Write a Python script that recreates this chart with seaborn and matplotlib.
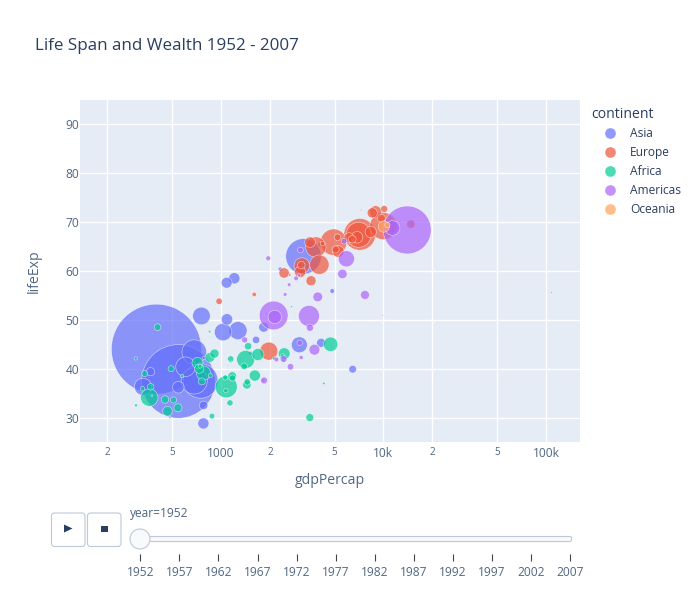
# Life expectancy vs gdp per capita, 1952 frame with the slider drawn underneath

import numpy as np
import pandas as pd
import seaborn as sns
import matplotlib.pyplot as plt
from matplotlib.colors import Normalize
from matplotlib.patches import FancyBboxPatch, Polygon, Rectangle, Circle

asia_gdp = [779.4, 9867.1, 684.2, 368.5, 400.4, 3054.4, 546.6, 749.7, 3035.3, 4129.8, 4086.5,
            3217.0, 1546.9, 1088.3, 1030.6, 108382.4, 4834.8, 1831.1, 786.6, 331.0, 545.9,
            1828.2, 684.6, 1272.9, 6459.6, 2315.1, 1083.5, 1643.5, 1207.0, 757.8, 605.1,
            1515.6, 781.7]
asia_life = [28.8, 50.9, 37.5, 39.4, 44.0, 61.0, 37.4, 37.5, 44.9, 45.3, 65.4,
             63.0, 43.2, 50.1, 47.5, 55.6, 55.9, 48.5, 42.2, 36.3, 36.2,
             37.6, 43.4, 47.8, 39.9, 60.4, 57.6, 45.9, 58.5, 50.8, 40.4,
             43.2, 32.5]
asia_pop = [8.43, 0.12, 46.89, 4.69, 556.26, 2.13, 372.0, 82.05, 17.27, 5.44, 1.62,
            86.46, 0.61, 8.87, 20.95, 0.16, 1.44, 6.75, 0.80, 20.09, 9.18,
            0.51, 41.35, 22.44, 4.01, 1.13, 7.98, 3.66, 8.55, 21.29, 26.25,
            1.03, 4.96]

europe_gdp = [1601.1, 6137.1, 8343.1, 973.5, 2444.3, 3119.2, 6876.1, 9692.4, 6424.5, 7029.8,
              7144.1, 3530.7, 5263.7, 7267.7, 5210.3, 4931.4, 2647.6, 8941.6, 10095.4, 4029.3,
              3068.3, 3144.6, 3581.5, 5074.7, 4215.0, 3834.0, 8527.8, 14734.2, 1969.1, 9979.5]
europe_life = [55.2, 66.8, 68.0, 53.8, 59.6, 61.2, 66.9, 70.8, 66.5, 67.4,
               67.5, 65.9, 64.0, 72.5, 66.9, 65.9, 59.2, 72.1, 72.7, 61.3,
               59.8, 61.1, 58.0, 64.4, 65.6, 64.9, 71.9, 69.6, 43.6, 69.2]
europe_pop = [1.28, 6.93, 8.73, 2.79, 7.27, 3.88, 9.13, 4.33, 4.09, 42.46,
              69.15, 7.73, 9.50, 0.15, 2.95, 47.67, 0.41, 10.38, 3.33, 25.73,
              8.53, 16.63, 6.86, 3.56, 1.49, 28.55, 7.12, 4.82, 22.24, 50.43]

africa_gdp = [2449.0, 3520.6, 1062.8, 851.2, 543.3, 339.3, 1172.7, 1071.3, 1178.7, 1103.0,
              780.5, 2125.6, 1388.6, 2669.5, 1418.8, 375.6, 328.9, 362.1, 4293.5, 485.2,
              911.3, 510.2, 299.9, 853.5, 298.8, 575.6, 2387.5, 1443.0, 369.2, 452.3,
              743.1, 1968.0, 1688.2, 468.5, 2423.8, 761.9, 1077.3, 2718.9, 493.3, 879.6,
              1450.4, 879.8, 1135.7, 4725.3, 1616.0, 1148.4, 716.7, 859.8, 1468.5, 734.8,
              1147.4, 406.9]
africa_life = [43.1, 30.0, 38.2, 47.6, 32.0, 39.0, 38.5, 35.5, 38.1, 40.7,
               39.1, 42.1, 40.5, 34.8, 41.9, 34.5, 35.9, 34.1, 37.0, 30.0,
               43.1, 33.6, 32.5, 42.3, 42.1, 38.5, 42.7, 36.7, 36.3, 33.7,
               40.5, 51.0, 42.9, 31.3, 41.7, 37.4, 36.3, 52.7, 40.0, 46.5,
               37.3, 30.3, 33.0, 45.0, 38.6, 41.4, 41.2, 38.6, 44.6, 40.0,
               42.0, 48.5]
africa_pop = [9.28, 4.23, 1.74, 0.44, 4.47, 2.45, 5.01, 1.29, 2.68, 0.15,
              14.10, 0.85, 2.98, 0.06, 22.22, 0.22, 1.44, 20.86, 0.42, 0.28,
              5.58, 2.66, 0.58, 6.46, 0.75, 0.86, 1.02, 4.76, 2.92, 3.84,
              1.02, 0.52, 9.94, 6.45, 0.49, 3.38, 33.12, 0.26, 2.53, 0.06,
              2.76, 2.14, 2.53, 14.26, 8.50, 0.29, 8.32, 1.22, 3.65, 5.82,
              2.67, 3.08]

americas_gdp = [5911.3, 2677.3, 2108.9, 11367.2, 3940.0, 2144.1, 2627.0, 5586.5, 1397.7, 3522.1,
                3048.3, 2428.2, 1840.4, 2194.9, 2898.5, 3478.1, 3112.4, 2480.4, 1952.3, 3758.5,
                3082.0, 3023.3, 13990.5, 5716.8, 7689.8]
americas_life = [62.5, 40.4, 50.9, 68.8, 54.7, 50.6, 57.2, 59.4, 45.9, 48.4,
                 45.3, 42.0, 37.6, 41.9, 58.5, 50.8, 42.3, 55.2, 62.6, 43.9,
                 64.3, 59.1, 68.4, 66.1, 55.1]
americas_pop = [17.88, 2.88, 56.60, 14.79, 6.38, 12.35, 0.93, 6.01, 2.49, 3.55,
                2.04, 3.15, 3.20, 1.52, 1.43, 30.14, 1.17, 0.94, 1.56, 8.03,
                2.23, 0.66, 157.55, 2.25, 5.44]

oceania_gdp = [10039.6, 10556.6]
oceania_life = [69.1, 69.4]
oceania_pop = [8.69, 1.99]

continents = ["Asia", "Europe", "Africa", "Americas", "Oceania"]
colors = ["#636EFA", "#EF553B", "#00CC96", "#AB63FA", "#FFA15A"]
years = [1952, 1957, 1962, 1967, 1972, 1977, 1982, 1987, 1992, 1997, 2002, 2007]
yticks = [30, 40, 50, 60, 70, 80, 90]
xticks = [200, 500, 1000, 2000, 5000, 10000, 20000, 50000, 100000]
xticklabels = ["2", "5", "1000", "2", "5", "10k", "2", "5", "100k"]

text_color = "#2a3f5f"
soft_text = "#506784"
W, H = 700, 600
PX = 0.72  # css px to points at dpi 100


def make_frame(name, gdp, life, pop):
	return pd.DataFrame({"continent": name, "gdpPercap": gdp, "lifeExp": life, "pop": pop})


df = pd.concat([
	make_frame("Asia", asia_gdp, asia_life, asia_pop),
	make_frame("Europe", europe_gdp, europe_life, europe_pop),
	make_frame("Africa", africa_gdp, africa_life, africa_pop),
	make_frame("Americas", americas_gdp, americas_life, americas_pop),
	make_frame("Oceania", oceania_gdp, oceania_life, oceania_pop),
])

sns.set_theme(style="white")
plt.rcParams["font.family"] = ["Open Sans", "DejaVu Sans"]

fig = plt.figure(figsize=(W / 100, H / 100), dpi=100)
ax = fig.add_axes([80 / W, 1 - 442 / H, 500 / W, 342 / H])
ax.set_facecolor("#E5ECF6")
ax.set_axisbelow(True)

# china is about 90 px wide, area scales with population
biggest = max(asia_pop)
max_s = (90 * PX) ** 2

# each continent is its own layer, big bubbles go first so the small ones stay visible
for name, color in zip(continents, colors):
	part = df[df["continent"] == name].sort_values("pop", ascending=False)
	sns.scatterplot(data=part, x="gdpPercap", y="lifeExp", size="pop",
		sizes=(0, max_s), size_norm=Normalize(0, biggest), color=color,
		alpha=0.7, edgecolor="white", linewidth=0.4, legend=False, ax=ax, clip_on=True)

ax.set_xscale("log")
ax.set_xlim(10 ** (3 - 141 / 162.5), 10 ** (3 + 359 / 162.5))
ax.set_ylim(25, 95)
ax.set_xticks(xticks)
ax.set_xticklabels(xticklabels)
ax.minorticks_off()
ax.set_yticks(yticks)
ax.grid(True, color="white", linewidth=1)
sns.despine(ax=ax, left=True, bottom=True, top=True, right=True)
ax.tick_params(axis="both", length=0, labelcolor=soft_text)
ax.tick_params(axis="x", pad=3.5)
ax.tick_params(axis="y", pad=0.5, labelsize=12 * PX)
for label, text in zip(ax.get_xticklabels(), xticklabels):
	label.set_fontsize(12 * PX if len(text) > 1 else 10 * PX)
ax.set_xlabel("")
ax.set_ylabel("")

# everything outside the axes goes on a pixel overlay
over = fig.add_axes([0, 0, 1, 1])
over.set_xlim(0, W)
over.set_ylim(H, 0)
over.axis("off")

over.text(35, 45.5, "Life Span and Wealth 1952 - 2007", fontsize=17 * PX, color=text_color,
	va="center", ha="left")
over.text(330, 480, "gdpPercap", fontsize=14 * PX, color=soft_text, ha="center", va="center")
over.text(34, 271, "lifeExp", fontsize=14 * PX, color=soft_text, ha="center", va="center",
	rotation=90)

# legend
over.text(591, 114, "continent", fontsize=14 * PX, color=text_color, va="center")
for i, (name, color) in enumerate(zip(continents, colors)):
	y = 133 + i * 19
	over.scatter([610], [y], s=(11 * PX) ** 2, color=color, alpha=0.7, edgecolor="white",
		linewidth=0.3)
	over.text(630, y + 0.8, name, fontsize=12 * PX, color=text_color, va="center")

# play and stop buttons
edge = "#BEC8D9"
for x0 in [51.5, 87.5]:
	over.add_patch(FancyBboxPatch((x0 + 2, 515), 29.5, 29.5, boxstyle="round,pad=2,rounding_size=3",
		facecolor="white", edgecolor=edge, linewidth=0.8))
over.add_patch(Polygon([[64, 524.5], [72.5, 528.5], [64, 532.5]], closed=True, color=text_color, lw=0))
over.add_patch(Rectangle((101, 525.7), 6.5, 6.5, color=text_color, lw=0))

# slider
over.text(130, 514, "year=1952", fontsize=12 * PX, color=soft_text, va="center")
over.add_patch(FancyBboxPatch((131, 537), 440, 4, boxstyle="round,pad=0.5,rounding_size=1.5",
	facecolor="#F8FAFC", edgecolor=edge, linewidth=0.8))
x_first, x_last = 140.3, 570.3
for year in years:
	x = x_first + (year - years[0]) / (years[-1] - years[0]) * (x_last - x_first)
	over.plot([x, x], [554, 561], color="#444444", linewidth=0.8, solid_capstyle="butt")
	over.text(x, 573, str(year), fontsize=12 * PX, color=soft_text, ha="center", va="center")
over.add_patch(Circle((140, 539), 10, facecolor="#F8FAFC", edgecolor=edge, linewidth=0.8, zorder=5))

fig.savefig("out.png", dpi=100)
